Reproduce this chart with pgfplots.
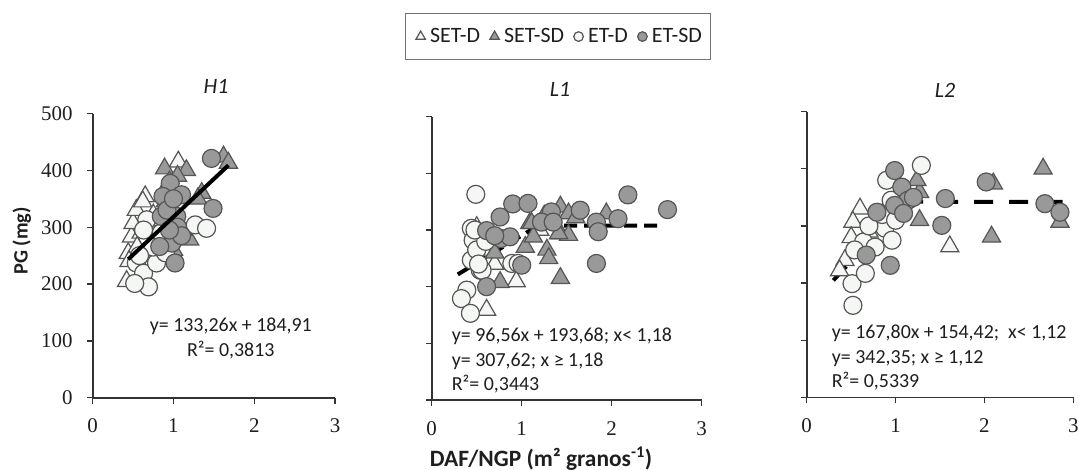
\documentclass[border=0pt]{standalone}
\usepackage{pgfplots}
\pgfplotsset{compat=1.18}
\usepackage{fontspec}
\setmainfont{Carlito}
\newfontfamily\tickfont{Liberation Serif}
\definecolor{mkedge}{HTML}{555555}
\definecolor{mkgray}{HTML}{999999}
\definecolor{mkwhite}{HTML}{F5F7F5}
\definecolor{txt}{HTML}{1E1E1E}

\pgfplotsset{
  panel/.style={
    scale only axis, axis lines=left,
    axis line style={-, line width=1.6bp, black!80},
    xmin=0, xmax=3, ymin=0, ymax=500,
    xtick={0,1,2,3}, ytick={0,100,200,300,400,500},
    tick align=outside, major tick length=6bp,
    tick style={line width=1.3bp, black!80},
    /pgf/number format/assume math mode=true,
    tick label style={font=\tickfont\fontsize{21}{21}\selectfont, text=txt, inner sep=0pt},
    x tick label style={font=\tickfont\fontsize{21}{21}\selectfont, anchor=base, yshift=-29bp},
    y tick label style={font=\tickfont\fontsize{21}{21}\selectfont, anchor=east, xshift=-14bp},
    clip=false,
  },
  setd/.style={only marks, mark=triangle*, mark size=10.5bp,
    mark options={fill=mkwhite, draw=mkedge, line width=1.2bp},
    legend image code/.code={\path (-8bp,0bp) (7bp,0bp); \draw[##1, mark size=5.5bp] plot coordinates {(0bp,0bp)};}},
  setsd/.style={only marks, mark=triangle*, mark size=10.5bp,
    mark options={fill=mkgray, draw=mkedge, line width=1.2bp},
    legend image code/.code={\path (-8bp,0bp) (7bp,0bp); \draw[##1, mark size=5.5bp] plot coordinates {(0bp,0bp)};}},
  etd/.style={only marks, mark=*, mark size=9bp,
    mark options={fill=mkwhite, draw=mkedge, line width=1.2bp},
    legend image code/.code={\path (-8bp,0bp) (7bp,0bp); \draw[##1, mark size=4.8bp] plot coordinates {(0bp,0bp)};}},
  etsd/.style={only marks, mark=*, mark size=9bp,
    mark options={fill=mkgray, draw=mkedge, line width=1.2bp},
    legend image code/.code={\path (-8bp,0bp) (7bp,0bp); \draw[##1, mark size=4.8bp] plot coordinates {(0bp,0bp)};}},
}

\begin{document}
\begin{tikzpicture}
\useasboundingbox (0bp,0bp) rectangle (1079bp,-470bp);

% ---------------- H1 ----------------
\begin{axis}[panel, at={(92.7bp,-397.7bp)}, anchor=south west,
  width=242.3bp, height=284.2bp]
\addplot[setd] coordinates {
(0.42,205) (0.44,254) (0.48,283) (0.50,307) (0.54,330) (0.65,354) (1.06,415)
(0.60,290) (0.70,300) (0.75,322) (0.55,265) (0.62,345) (0.45,240) (0.90,310) (1.00,320)
};
\addplot[setsd] coordinates {
(0.89,403) (1.16,400) (1.05,390) (1.62,424) (1.68,413) (1.35,360) (1.20,278)
(1.12,295) (0.83,283) (0.95,380) (1.30,350) (1.00,260) (0.75,290) (0.70,250) (0.90,345) (1.25,300)
};
\addplot[etd] coordinates {
(0.67,313) (0.63,295) (1.27,304) (1.41,298) (0.54,237) (0.63,219) (0.69,195)
(0.79,237) (0.52,201) (0.75,265) (0.85,290) (0.58,250) (0.90,255) (1.00,280)
};
\addplot[etsd] coordinates {
(1.47,421) (0.96,377) (0.87,354) (1.10,357) (1.49,333) (0.85,319) (1.04,319)
(0.98,272) (0.83,266) (1.02,237) (1.05,300) (0.92,330) (1.10,285) (0.95,295) (1.00,350)
};
\end{axis}
% overlay axis so that the H1 fit line lies above the marks
\begin{axis}[scale only axis, at={(92.7bp,-397.7bp)}, anchor=south west,
  width=242.3bp, height=284.2bp, xmin=0, xmax=3, ymin=0, ymax=500,
  axis lines=none, clip=false]
\addplot[black, line width=4bp] coordinates {(0.44,243.54) (1.68,408.79)};
\end{axis}

% ---------------- L1 ----------------
\begin{axis}[panel, at={(431.7bp,-400bp)}, anchor=south west,
  width=270bp, height=283.3bp, yticklabels={},
  legend style={at={(0.4678,1.3671)}, anchor=north, draw=black!55, line width=1bp,
    font=\fontsize{22}{26}\selectfont, text=txt, inner xsep=7bp, inner ysep=13.5bp},
  legend columns=4,
  legend cell align=left,
  /tikz/every even column/.append style={column sep=4bp},
]
\addplot[black, line width=4bp, dash pattern=on 13bp off 7bp, forget plot]
  coordinates {(0.29,221.68) (1.18,307.62) (2.55,307.62)};
\addplot[setd] coordinates {
(0.61,159) (0.94,209) (0.45,255) (0.60,265) (1.20,300) (0.50,305) (0.70,240)
};
\addlegendentry{SET-D}
\addplot[setsd] coordinates {
(1.43,341) (1.52,329) (1.09,312) (1.94,329) (1.43,294) (1.52,291) (1.04,270)
(1.28,265) (1.30,250) (0.76,208) (1.43,215) (1.13,288) (1.11,312) (1.41,294)
(1.25,325) (1.60,322) (0.70,260)
};
\addlegendentry{SET-SD}
\addplot[etd] coordinates {
(0.49,363) (0.44,303) (0.46,282) (0.44,247) (0.54,229) (0.39,194) (0.33,179)
(0.43,153) (0.89,241) (0.96,241) (0.56,229) (0.50,265) (0.60,280) (0.48,300) (0.52,240)
};
\addlegendentry{ET-D}
\addplot[etsd] coordinates {
(0.90,346) (1.07,347) (0.76,323) (0.61,299) (0.77,285) (0.87,288) (1.33,332)
(1.22,314) (1.35,314) (1.65,335) (1.83,314) (1.85,297) (2.07,320) (2.18,362)
(2.62,336) (0.61,200) (1.00,238) (1.83,241) (0.70,290)
};
\addlegendentry{ET-SD}
\end{axis}

% ---------------- L2 ----------------
\begin{axis}[panel, at={(806.7bp,-397.3bp)}, anchor=south west,
  width=266.6bp, height=285.6bp, yticklabels={}]
\addplot[black, line width=4bp, dash pattern=on 19bp off 16bp]
  coordinates {(0.30,204.76) (1.12,342.36) (2.88,342.35)};
\addplot[setd] coordinates {
(0.60,330) (0.52,307) (1.61,264) (0.43,240) (0.37,222) (0.70,290) (0.80,300) (0.50,280)
};
\addplot[setsd] coordinates {
(2.66,400) (1.27,310) (2.08,281) (2.85,307) (2.10,374) (1.27,359) (1.24,380) (0.85,320) (1.00,340)
};
\addplot[etd] coordinates {
(1.29,406) (0.90,380) (0.88,296) (0.64,272) (0.96,275) (0.52,161) (0.51,199)
(0.66,217) (0.77,263) (0.54,258) (0.85,320) (0.95,345) (0.70,300) (1.00,310)
};
\addplot[etsd] coordinates {
(0.99,397) (1.07,368) (1.14,345) (0.99,336) (0.79,324) (1.56,348) (1.52,301)
(2.02,377) (2.68,339) (2.85,324) (0.67,249) (0.94,231) (1.09,322) (1.20,350)
};
\end{axis}

% ---------------- texts ----------------
\begin{scope}[every node/.style={text=txt, inner sep=0pt}]
\node[font=\itshape\fontsize{22}{26}\selectfont] at (216bp,-86.7bp) {H1};
\node[font=\itshape\fontsize{22}{26}\selectfont] at (560bp,-89bp) {L1};
\node[font=\itshape\fontsize{22}{26}\selectfont] at (945bp,-90.7bp) {L2};
\node[font=\bfseries\fontsize{20.5}{24}\selectfont, rotate=90] at (21.7bp,-241bp) {PG (mg)};
\node[font=\bfseries\fontsize{23.5}{26}\selectfont] at (541bp,-458.3bp) {DAF/NGP (m² granos\textsuperscript{-1})};
\begin{scope}[every node/.append style={font=\fontsize{20}{24}\selectfont}]
\node[anchor=base] at (230.8bp,-331.7bp) {y= 133,26x + 184,91};
\node[anchor=base] at (230.8bp,-356bp) {R²= 0,3813};
\node[anchor=base west] at (451.7bp,-341.7bp) {y= 96,56x + 193,68; x< 1,18};
\node[anchor=base west] at (451.7bp,-366bp) {y= 307,62; x ≥ 1,18};
\node[anchor=base west] at (451.7bp,-390.7bp) {R²= 0,3443};
\node[anchor=base west] at (831.7bp,-338.3bp) {y= 167,80x + 154,42;\ \ x< 1,12};
\node[anchor=base west] at (831.7bp,-363.3bp) {y= 342,35; x ≥ 1,12};
\node[anchor=base west] at (831.7bp,-387.7bp) {R²= 0,5339};
\end{scope}
\end{scope}
\end{tikzpicture}
\end{document}
